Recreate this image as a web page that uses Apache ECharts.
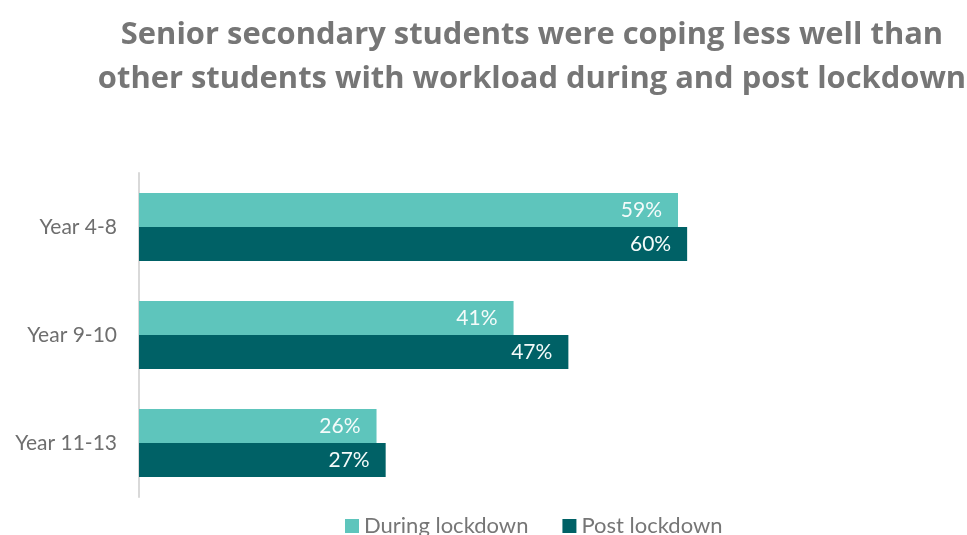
<!DOCTYPE html>
<html>
<head>
<meta charset="utf-8">
<script src="https://cdn.jsdelivr.net/npm/echarts@6/dist/echarts.min.js"></script>
<style>
  html, body { margin: 0; padding: 0; background: #ffffff; }
  #chart { width: 967px; height: 535px; }
</style>
</head>
<body>
<div id="chart"></div>
<script>
// Year groups shown on the vertical axis (top to bottom)
const categories = ['Year 4-8', 'Year 9-10', 'Year 11-13'];
// Share of students coping well with workload (%)
const duringLockdown = [59, 41, 26];
const postLockdown = [60, 47, 27];
const seriesNames = ['During lockdown', 'Post lockdown'];

const FONT = 'Lato, "Open Sans", sans-serif';

const barLabel = {
  show: true,
  position: 'insideRight',
  distance: 16,
  formatter: '{c}%',
  color: '#f4fbfa',
  fontFamily: FONT,
  fontSize: 21
};

const chart = echarts.init(document.getElementById('chart'));
chart.setOption({
  backgroundColor: '#ffffff',
  animation: false,
  title: {
    text: 'Senior secondary students were coping less well than\nother students with workload during and post lockdown',
    left: 527,
    textAlign: 'center',
    top: 8,
    textStyle: {
      fontFamily: '"Open Sans", sans-serif',
      fontSize: 30.9,
      fontWeight: 'bold',
      color: '#767676',
      lineHeight: 44
    }
  },
  legend: {
    data: seriesNames,
    bottom: -7,
    left: 340,
    itemWidth: 14,
    itemHeight: 14,
    itemGap: 34,
    icon: 'rect',
    textStyle: { fontFamily: FONT, fontSize: 22, color: '#767676' }
  },
  grid: {
    left: 139,
    top: 173,
    height: 324,
    right: 188.5,
    containLabel: false
  },
  xAxis: {
    type: 'value',
    min: 0,
    max: 70,
    show: false
  },
  yAxis: {
    type: 'category',
    data: categories,
    inverse: true,
    axisLine: { show: true, lineStyle: { color: '#d9d9d9', width: 2 } },
    axisTick: { show: false },
    axisLabel: {
      fontFamily: FONT,
      fontSize: 21,
      color: '#6e6e6e',
      margin: 22
    }
  },
  series: [
    {
      name: seriesNames[0],
      type: 'bar',
      data: duringLockdown,
      barGap: '0%',
      barCategoryGap: '37%',
      itemStyle: { color: '#5ec5bc' },
      label: barLabel
    },
    {
      name: seriesNames[1],
      type: 'bar',
      data: postLockdown,
      barGap: '0%',
      barCategoryGap: '37%',
      itemStyle: { color: '#006166' },
      label: barLabel
    }
  ]
});
</script>
</body>
</html>
